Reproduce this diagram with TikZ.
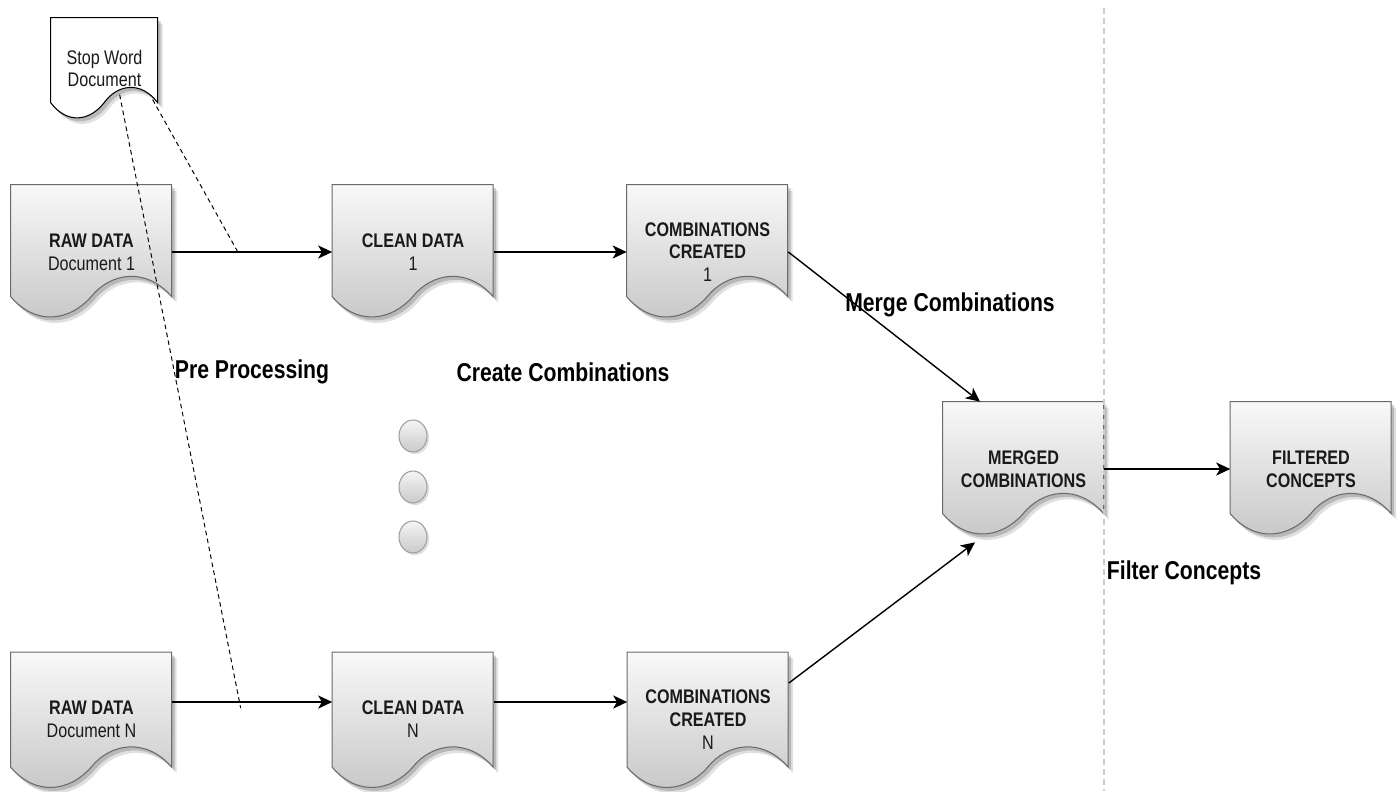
\documentclass[tikz,border=0pt]{standalone}
\usepackage{fontspec}
\setmainfont{Liberation Sans}
\newfontfamily\narr[FakeStretch=0.82]{Liberation Sans}
\usetikzlibrary{arrows.meta,calc,backgrounds,shapes.geometric,shadows}
\definecolor{txt}{HTML}{1A1A1A}
\definecolor{edgegray}{HTML}{6A6A6A}

% #1 node name, #2 width (px), #3 side height (px), #4 wave factor, #5 body options
\newcommand\docshape[5]{%
  \begin{scope}[shift={(#1.north west)}]
    \fill[black, opacity=0.12, shift={(5,6)}]
      (0,0) -- (#2,0) -- (#2,#3)
      .. controls ({0.84*#2},{#3-30*#4}) and ({0.62*#2},{#3-24*#4}) .. ({0.5*#2},#3)
      .. controls ({0.37*#2},{#3+24*#4}) and ({0.16*#2},{#3+30*#4}) .. (0,#3) -- cycle;
    \fill[black, opacity=0.18, shift={(3,3.5)}]
      (0,0) -- (#2,0) -- (#2,#3)
      .. controls ({0.84*#2},{#3-30*#4}) and ({0.62*#2},{#3-24*#4}) .. ({0.5*#2},#3)
      .. controls ({0.37*#2},{#3+24*#4}) and ({0.16*#2},{#3+30*#4}) .. (0,#3) -- cycle;
    \path[#5]
      (0,0) -- (#2,0) -- (#2,#3)
      .. controls ({0.84*#2},{#3-30*#4}) and ({0.62*#2},{#3-24*#4}) .. ({0.5*#2},#3)
      .. controls ({0.37*#2},{#3+24*#4}) and ({0.16*#2},{#3+30*#4}) .. (0,#3) -- cycle;
  \end{scope}}

\tikzset{
  docbox/.style={minimum width=3.22cm, minimum height=2.68cm, inner sep=0pt,
    align=center, font=\narr\fontsize{11.2}{13}\selectfont, text=txt},
  stopbox/.style={minimum width=2.14cm, minimum height=2.02cm, inner sep=0pt,
    align=center, font=\narr\fontsize{11.2}{13}\selectfont, text=txt},
  graybody/.style={draw=edgegray, line width=0.6pt, top color=gray!5, bottom color=gray!45},
  whitebody/.style={draw=black, line width=0.6pt, fill=white},
  phase/.style={font=\narr\bfseries\fontsize{14.7}{17}\selectfont, text=black},
  flow/.style={line width=0.8pt, -{Stealth[length=8pt,width=7.5pt,inset=2.2pt]}},
  link/.style={line width=0.55pt, dash pattern=on 2.6pt off 2pt},
  divider/.style={line width=0.7pt, gray!40, dash pattern=on 3.4pt off 2.3pt},
  dotball/.style={ellipse, minimum width=0.56cm, minimum height=0.64cm, inner sep=0pt,
    draw=gray!75, line width=0.6pt, top color=gray!8, bottom color=gray!42,
    drop shadow={opacity=0.25, shadow xshift=1.2pt, shadow yshift=-1.2pt}}
}

\begin{document}
\begin{tikzpicture}[x=0.02cm, y=-0.02cm]
  \useasboundingbox (0,0) rectangle (1398,791);

  % document nodes (text), shapes drawn behind
  \node[stopbox] (stop) at (104.5,68.5) {Stop Word\\Document};
  \node[docbox] (raw1) at (91.5,252) {\textbf{RAW DATA}\\Document 1};
  \node[docbox] (clean1) at (413,252) {\textbf{CLEAN DATA}\\1};
  \node[docbox] (comb1) at (707.5,252) {\textbf{COMBINATIONS}\\\textbf{CREATED}\\1};
  \node[docbox] (merged) at (1023.5,469) {\textbf{MERGED}\\\textbf{COMBINATIONS}};
  \node[docbox] (filtered) at (1311,469) {\textbf{FILTERED}\\\textbf{CONCEPTS}};
  \node[docbox] (rawN) at (91.5,719.5) {\textbf{RAW DATA}\\Document N};
  \node[docbox] (cleanN) at (413,719.5) {\textbf{CLEAN DATA}\\N};
  \node[docbox] (combN) at (708,719.5) {\textbf{COMBINATIONS}\\\textbf{CREATED}\\N};

  \begin{scope}[on background layer]
    \docshape{stop}{107}{85}{0.75}{whitebody}
    \docshape{raw1}{161}{112}{1}{graybody}
    \docshape{clean1}{161}{112}{1}{graybody}
    \docshape{comb1}{161}{112}{1}{graybody}
    \docshape{merged}{161}{112}{1}{graybody}
    \docshape{filtered}{161}{112}{1}{graybody}
    \docshape{rawN}{161}{115}{1}{graybody}
    \docshape{cleanN}{161}{115}{1}{graybody}
    \docshape{combN}{161}{115}{1}{graybody}
  \end{scope}

  % ellipsis dots
  \node[dotball] (d1) at (413,436) {};
  \node[dotball] (d2) at (413,487) {};
  \node[dotball] (d3) at (413,537) {};

  % phase labels
  \node[phase] (lpre) at (252,372) {Pre Processing};
  \node[phase] (lcreate) at (563,372) {Create Combinations};
  \node[phase] (lmerge) at (950,305) {Merge Combinations};
  \node[phase] (lfilter) at (1184,573) {Filter Concepts};

  % divider
  \coordinate (divtop) at (1104,8);
  \coordinate (divbot) at (1104,791);
  \draw[divider] (divtop) -- (divbot);

  % flows
  \draw[flow] (raw1.east) -- (clean1.west);
  \draw[flow] (clean1.east) -- (comb1.west);
  \draw[flow] (comb1.east) -- ([xshift=-0.87cm]merged.north);
  \draw[flow] ([yshift=0.73cm]combN.east) -- ([xshift=-0.97cm,yshift=-0.12cm]merged.south);
  \draw[flow] (merged.east) -- (filtered.west);
  \draw[flow] ([yshift=0.35cm]rawN.east) -- ([yshift=0.35cm]cleanN.west);
  \draw[flow] ([yshift=0.35cm]cleanN.east) -- ([yshift=0.35cm]combN.west);

  % stop-word links
  \coordinate (stopA) at ([xshift=2.04cm,yshift=-1.64cm]stop.north west);
  \coordinate (stopB) at ([xshift=1.38cm,yshift=-1.54cm]stop.north west);
  \coordinate (p1) at ($(raw1.east)!0.41!(clean1.west)$);
  \coordinate (pN) at ($([yshift=0.35cm]rawN.east)!0.42!([yshift=0.35cm]cleanN.west)$);
  \draw[link] (stopA) -- (p1);
  \draw[link] (stopB) -- ($(stopB)!1.01!(pN)$);
\end{tikzpicture}
\end{document}
